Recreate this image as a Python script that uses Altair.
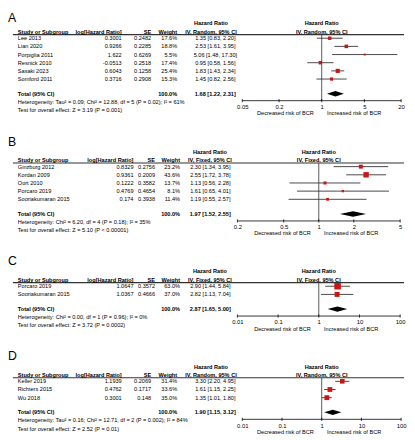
import altair as alt
import pandas as pd

# ---------------- data ----------------
A_study = ["Lee 2013", "Lian 2020", "Porpiglia 2011", "Resnick 2010", "Sasaki 2023", "Somford 2011"]
A_loghr = [0.3001, 0.9266, 1.622, -0.0513, 0.6043, 0.3716]
A_se = [0.2482, 0.2285, 0.6269, 0.2518, 0.1258, 0.2908]
A_weight = [17.6, 18.8, 5.5, 17.4, 25.4, 15.3]
A_hr = [1.35, 2.53, 5.06, 0.95, 1.83, 1.45]
A_lo = [0.83, 1.61, 1.48, 0.58, 1.43, 0.82]
A_hi = [2.20, 3.95, 17.30, 1.56, 2.34, 2.56]
A_total = [1.68, 1.22, 2.31]
A_het = "Heterogeneity: Tau² = 0.09; Chi² = 12.88, df = 5 (P = 0.02); I² = 61%"
A_test = "Test for overall effect: Z = 3.19 (P = 0.001)"
A_ticks = [0.05, 0.2, 1, 5, 20]

B_study = ["Ginzburg 2012", "Kordan 2009", "Oort 2010", "Porcaro 2019", "Sooriakumaran 2015"]
B_loghr = [0.8329, 0.9361, 0.1222, 0.4769, 0.174]
B_se = [0.2756, 0.2009, 0.3582, 0.4654, 0.3938]
B_weight = [23.2, 43.6, 13.7, 8.1, 11.4]
B_hr = [2.30, 2.55, 1.13, 1.61, 1.19]
B_lo = [1.34, 1.72, 0.56, 0.65, 0.55]
B_hi = [3.95, 3.78, 2.28, 4.01, 2.57]
B_total = [1.97, 1.52, 2.55]
B_het = "Heterogeneity: Chi² = 6.20, df = 4 (P = 0.18); I² = 35%"
B_test = "Test for overall effect: Z = 5.10 (P < 0.00001)"
B_ticks = [0.2, 0.5, 1, 2, 5]

C_study = ["Porcaro 2019", "Sooriakumaran 2015"]
C_loghr = [1.0647, 1.0367]
C_se = [0.3572, 0.4666]
C_weight = [63.0, 37.0]
C_hr = [2.90, 2.82]
C_lo = [1.44, 1.13]
C_hi = [5.84, 7.04]
C_total = [2.87, 1.65, 5.00]
C_het = "Heterogeneity: Chi² = 0.00, df = 1 (P = 0.96); I² = 0%"
C_test = "Test for overall effect: Z = 3.72 (P = 0.0002)"
C_ticks = [0.01, 0.1, 1, 10, 100]

D_study = ["Keller 2019", "Richters 2015", "Wu 2018"]
D_loghr = [1.1939, 0.4762, 0.3001]
D_se = [0.2069, 0.1717, 0.148]
D_weight = [31.4, 33.6, 35.0]
D_hr = [3.30, 1.61, 1.35]
D_lo = [2.20, 1.15, 1.01]
D_hi = [4.95, 2.25, 1.80]
D_total = [1.90, 1.15, 3.12]
D_het = "Heterogeneity: Tau² = 0.16; Chi² = 12.71, df = 2 (P = 0.002); I² = 84%"
D_test = "Test for overall effect: Z = 2.52 (P = 0.01)"
D_ticks = [0.01, 0.1, 1, 10, 100]

# ---------------- style / layout ----------------
FONT = "Liberation Sans"
FS = 5.7
AXFS = 6.0
RED = "#cc1414"
GRAY = "#333333"
STEP = 8.33
H1Y = 11.5
H2Y = 20.2
RULEY = 22.8
ROW0 = 26.5
PW = 405

COLS_RANDOM = dict(study=10, log=116, se=146, wt=172.5, hc=207, ci=211.5)
COLS_FIXED = dict(study=10, log=128, se=150, wt=175.5, hc=206, ci=206.4)
XR_RANDOM = [239, 401]
XR_FIXED = [234, 400]


def one():
    return pd.DataFrame({"k": [0]})


def label(text, x, y, align="left", bold=False, size=FS):
    return alt.Chart(one()).mark_text(
        text=text, align=align, baseline="middle", font=FONT, fontSize=size,
        fontWeight="bold" if bold else "normal", color="black"
    ).encode(x=alt.value(x), y=alt.value(y))


def panel(letter, letter_y, method, study, loghr, se, weight, hr, lo, hi, total, het, test,
          ticks, cols, xr):
    n = len(study)
    H = ROW0 + STEP * (n + 1.65)
    ys = alt.Scale(domain=[0, 1], range=[ROW0, ROW0 + STEP], nice=False, zero=False)
    xs = alt.Scale(type="log", domain=[ticks[0], ticks[-1]], range=xr, nice=False)
    ax = alt.Axis(values=ticks, format="~g", title=None, grid=False, domain=False, ticks=False,
                  labelFontSize=AXFS, labelFont=FONT, labelPadding=3, labelColor="black",
                  labelFlush=False, labelOverlap=False)
    df = pd.DataFrame({
        "study": study, "row": list(range(n)),
        "loghr": [str(v) for v in loghr], "se": [str(v) for v in se],
        "w": weight, "wt": [f"{v:.1f}%" for v in weight],
        "hr": hr, "lo": lo, "hi": hi,
        "ci": [f"{a:.2f} [{b:.2f}, {c:.2f}]" for a, b, c in zip(hr, lo, hi)],
    })
    Y = alt.Y("row:Q", scale=ys, axis=None)
    base = alt.Chart(df)

    def col(src, field, x, align, bold=False):
        return src.mark_text(align=align, baseline="middle", font=FONT, fontSize=FS,
                             fontWeight="bold" if bold else "normal", color="black").encode(
            x=alt.value(x), y=Y, text=f"{field}:N")

    def xd(v=1):
        return alt.XDatum(v, type="quantitative", scale=xs, axis=ax)

    r = n + 0.8
    tdf = pd.DataFrame({"row": [r], "study": ["Total (95% CI)"], "wt": ["100.0%"],
                        "ci": [f"{total[0]:.2f} [{total[1]:.2f}, {total[2]:.2f}]"]})
    tb = alt.Chart(tdf)
    hdf = pd.DataFrame({"row": [n + 1.8, n + 2.8], "t": [het, test]})
    ddf = pd.DataFrame({"x": [total[1], total[0], total[2]],
                        "y": [r, r - 0.33, r], "y2": [r, r + 0.33, r]})
    kdf = pd.DataFrame({"t": ticks})

    hdr = f"IV, {method}, 95% CI"
    layers = [
        # header rule and null line
        alt.Chart(one()).mark_rule(color=GRAY, strokeWidth=1.1).encode(
            x=alt.value(5), x2=alt.value(404), y=alt.value(RULEY)),
        alt.Chart(one()).mark_rule(color="#444444", strokeWidth=0.9).encode(
            x=xd(), y=alt.value(RULEY), y2=alt.value(H)),
        # axis line and centred ticks
        alt.Chart(one()).mark_rule(color="black", strokeWidth=0.8).encode(
            x=xd(ticks[0]), x2=alt.X2Datum(ticks[-1]), y=alt.value(H)),
        alt.Chart(kdf).mark_rule(color="black", strokeWidth=0.8).encode(
            x=alt.X("t:Q", scale=xs, axis=ax), y=alt.value(H - 1.6), y2=alt.value(H + 1.6)),
        # table body
        col(base, "study", cols["study"], "left"),
        col(base, "loghr", cols["log"], "right"),
        col(base, "se", cols["se"], "right"),
        col(base, "wt", cols["wt"], "right"),
        col(base, "ci", cols["ci"], "center"),
        col(tb, "study", cols["study"], "left", True),
        col(tb, "wt", cols["wt"], "right", True),
        col(tb, "ci", cols["ci"], "center", True),
        alt.Chart(hdf).mark_text(align="left", baseline="middle", font=FONT, fontSize=FS,
                                 color="black").encode(x=alt.value(cols["study"]), y=Y, text="t:N"),
        # forest marks
        base.mark_rule(color=GRAY, strokeWidth=0.9).encode(
            x=alt.X("lo:Q", scale=xs, axis=ax), x2="hi:Q", y=Y),
        base.mark_square(color=RED, opacity=1).encode(
            x=alt.X("hr:Q", scale=xs, axis=ax), y=Y,
            size=alt.Size("w:Q", scale=alt.Scale(domain=[0, 100], range=[0, 70]), legend=None)),
        alt.Chart(ddf).mark_area(color="black", orient="vertical").encode(
            x=alt.X("x:Q", scale=xs, axis=ax), y=alt.Y("y:Q", scale=ys, axis=None), y2="y2:Q"),
        # headers
        label(letter, 0, letter_y, size=12.5),
        label("Hazard Ratio", cols["hc"], H1Y, align="center", bold=True),
        label("Study or Subgroup", cols["study"], H2Y, bold=True),
        label("log[Hazard Ratio]", cols["log"], H2Y, align="right", bold=True),
        label("SE", cols["se"], H2Y, align="right", bold=True),
        label("Weight", cols["wt"], H2Y, align="right", bold=True),
        label(hdr, cols["hc"], H2Y, align="center", bold=True),
        alt.Chart(one()).mark_text(text="Hazard Ratio", align="center", baseline="middle", font=FONT,
                                   fontSize=FS, fontWeight="bold", color="black").encode(
            x=xd(), y=alt.value(H1Y)),
        alt.Chart(one()).mark_text(text=hdr, align="center", baseline="middle", font=FONT,
                                   fontSize=FS, fontWeight="bold", color="black").encode(
            x=xd(), y=alt.value(H2Y)),
        alt.Chart(one()).mark_text(text="Decreased risk of BCR", align="center", baseline="middle",
                                   font=FONT, fontSize=FS, color="black", dx=-37).encode(
            x=xd(), y=alt.value(H + 12.8)),
        alt.Chart(one()).mark_text(text="Increased risk of BCR", align="center", baseline="middle",
                                   font=FONT, fontSize=FS, color="black", dx=33).encode(
            x=xd(), y=alt.value(H + 12.8)),
    ]
    return alt.layer(*layers).properties(width=PW, height=H)


pA = panel("A", 6.3, "Random", A_study, A_loghr, A_se, A_weight, A_hr, A_lo, A_hi, A_total, A_het,
           A_test, A_ticks, COLS_RANDOM, XR_RANDOM)
pB = panel("B", 1.0, "Fixed", B_study, B_loghr, B_se, B_weight, B_hr, B_lo, B_hi, B_total, B_het,
           B_test, B_ticks, COLS_FIXED, XR_FIXED)
pC = panel("C", 1.0, "Fixed", C_study, C_loghr, C_se, C_weight, C_hr, C_lo, C_hi, C_total, C_het,
           C_test, C_ticks, COLS_FIXED, XR_FIXED)
pD = panel("D", 1.0, "Random", D_study, D_loghr, D_se, D_weight, D_hr, D_lo, D_hi, D_total, D_het,
           D_test, D_ticks, COLS_RANDOM, XR_RANDOM)

chart = alt.vconcat(pA, pB, pC, pD, spacing=40, bounds="flush").properties(
    padding=0).configure_view(strokeWidth=0)

chart.save("out.html", embed_options={"renderer": "svg", "actions": False})
